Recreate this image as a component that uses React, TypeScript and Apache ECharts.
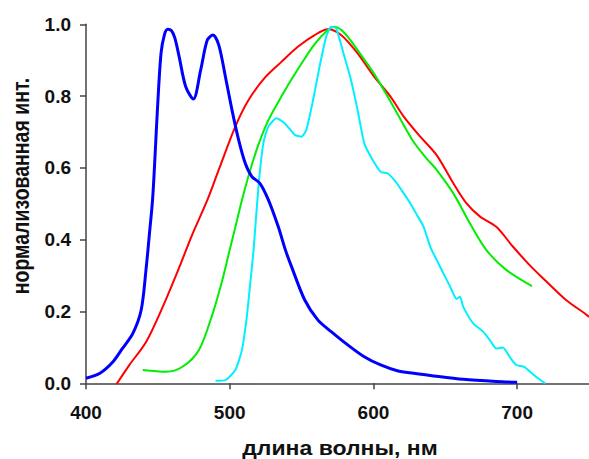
import React, { useEffect, useRef } from "react";
import * as echarts from "echarts";

const xTicks = [400, 500, 600, 700];
const yTicks = [0, 0.2, 0.4, 0.6, 0.8, 1.0];

const blueX = [400, 409.7, 418.8, 425, 432.6, 438.4, 441.8, 444.1, 446.3, 448, 449.8, 452.2, 454.5, 456.8, 459.5, 461.8, 464.8, 469.4, 474.7, 479.8, 484.4, 488.3, 492.4, 497, 501.6, 506.2, 510.8, 515.4, 521, 526.9, 533.8, 538.8, 543, 552.2, 561.4, 570.6, 582.1, 593.6, 605, 616.6, 628, 639.5, 662.5, 685.5, 700];
const blueY = [0.014, 0.028, 0.06, 0.095, 0.139, 0.204, 0.318, 0.415, 0.51, 0.63, 0.77, 0.919, 0.97, 0.986, 0.982, 0.962, 0.91, 0.826, 0.792, 0.873, 0.956, 0.97, 0.942, 0.854, 0.761, 0.678, 0.613, 0.576, 0.557, 0.511, 0.436, 0.371, 0.325, 0.232, 0.176, 0.144, 0.107, 0.074, 0.051, 0.035, 0.028, 0.022, 0.011, 0.005, 0.003];

const redX = [420, 430, 441.8, 453.3, 464.8, 474, 484.4, 492.4, 503.9, 513.1, 524.6, 536.1, 547.6, 559.1, 568.3, 577.5, 589, 600.5, 612, 621.1, 632.6, 644.1, 655.6, 664.8, 674, 685.5, 697, 708.5, 720, 734, 746.9, 750];
const redY = [-0.01, 0.05, 0.115, 0.212, 0.322, 0.415, 0.51, 0.595, 0.715, 0.789, 0.852, 0.896, 0.938, 0.97, 0.986, 0.97, 0.919, 0.854, 0.798, 0.743, 0.687, 0.635, 0.557, 0.501, 0.465, 0.436, 0.381, 0.33, 0.285, 0.232, 0.195, 0.185];

const greenX = [439.5, 455.6, 467.1, 478.6, 487.8, 494.7, 499.3, 503.9, 508.5, 514.3, 520, 526.9, 536.1, 547.6, 559.1, 568.3, 573, 580, 591.3, 600.5, 609.7, 618.9, 628, 637.2, 644.1, 655.6, 667.1, 678.6, 692.4, 710.3];
const greenY = [0.037, 0.032, 0.046, 0.093, 0.19, 0.285, 0.36, 0.435, 0.51, 0.594, 0.665, 0.733, 0.8, 0.876, 0.945, 0.984, 0.993, 0.975, 0.915, 0.862, 0.8, 0.735, 0.672, 0.625, 0.594, 0.529, 0.446, 0.371, 0.316, 0.271];

const cyanX = [490.1, 497, 503.9, 508.5, 511.9, 514.3, 516.6, 520, 523.4, 526.9, 532.6, 538.4, 545.3, 549.9, 553.3, 558, 562.5, 567.1, 570.6, 574, 579.8, 584.4, 589, 593.6, 598.2, 605, 609.7, 615.4, 621.1, 625.7, 630.3, 634.9, 639.5, 644.1, 648.7, 653.3, 657.9, 660.2, 662.5, 669.4, 676.3, 680.9, 685.5, 690.1, 694.7, 699.3, 705, 713.1, 719.5];
const cyanY = [0.007, 0.009, 0.037, 0.093, 0.186, 0.279, 0.371, 0.548, 0.669, 0.715, 0.738, 0.724, 0.692, 0.687, 0.706, 0.789, 0.882, 0.965, 0.993, 0.989, 0.91, 0.845, 0.761, 0.669, 0.631, 0.589, 0.585, 0.562, 0.529, 0.501, 0.469, 0.436, 0.381, 0.343, 0.306, 0.27, 0.235, 0.241, 0.213, 0.167, 0.144, 0.121, 0.097, 0.1, 0.074, 0.051, 0.046, 0.018, 0.0];

const xName = "длина волны, нм";
const yName = "нормализованная инт.";

const zip = (xs: number[], ys: number[]) => xs.map((x, i) => [x, ys[i]]);

const FONT = '"Liberation Sans", Arial, sans-serif';

export default function App() {
  const ref = useRef<HTMLDivElement>(null);
  useEffect(() => {
    if (!ref.current) return;
    const chart = echarts.init(ref.current, undefined, { renderer: "svg" });
    const axisCommon = {
      axisLine: { show: true, lineStyle: { color: "#444", width: 1.5 } },
      axisTick: { show: true, length: 6, lineStyle: { color: "#444", width: 1.5 } },
      splitLine: { show: false },
    };
    chart.setOption({
      animation: false,
      backgroundColor: "#fff",
      grid: { left: 86, right: -4.5, top: 24.3, bottom: 75.7 },
      xAxis: {
        type: "value",
        min: 400,
        max: 750,
        interval: 100,
        ...axisCommon,
        axisLabel: {
          margin: 20,
          showMaxLabel: false,
          color: "#111",
          fontWeight: "bold",
          fontSize: 19,
          fontFamily: FONT,
          formatter: (v: number) => (xTicks.includes(v) ? String(v) : ""),
        },
      },
      yAxis: {
        type: "value",
        min: 0,
        max: 1,
        interval: 0.2,
        ...axisCommon,
        axisLabel: {
          margin: 15,
          color: "#111",
          fontWeight: "bold",
          fontSize: 19,
          fontFamily: FONT,
          formatter: (v: number) => (yTicks.some((t) => Math.abs(t - v) < 1e-6) ? v.toFixed(1) : ""),
        },
      },
      graphic: [
        {
          type: "text",
          x: 340,
          y: 449,
          scaleX: 1.18,
          style: {
            text: xName,
            fill: "#111",
            fontWeight: "bold",
            fontSize: 19.5,
            fontFamily: FONT,
            align: "center",
            verticalAlign: "middle",
            textAlign: "center",
            textVerticalAlign: "middle",
          },
        },
        {
          type: "text",
          x: 21,
          y: 186,
          rotation: Math.PI / 2,
          scaleY: 1.2,
          style: {
            text: yName,
            fill: "#111",
            fontWeight: "bold",
            fontSize: 19.5,
            fontFamily: FONT,
            align: "center",
            verticalAlign: "middle",
            textAlign: "center",
            textVerticalAlign: "middle",
          },
        },
      ],
      series: [
        {
          type: "line",
          data: zip(redX, redY),
          showSymbol: false,
          smooth: 0.3,
          lineStyle: { color: "#ff0000", width: 2 },
          z: 2,
        },
        {
          type: "line",
          data: zip(greenX, greenY),
          showSymbol: false,
          smooth: 0.3,
          lineStyle: { color: "#00ee00", width: 2 },
          z: 3,
        },
        {
          type: "line",
          data: zip(cyanX, cyanY),
          showSymbol: false,
          smooth: 0.2,
          lineStyle: { color: "#00f0ff", width: 2 },
          z: 4,
        },
        {
          type: "line",
          data: zip(blueX, blueY),
          showSymbol: false,
          smooth: 0.3,
          lineStyle: { color: "#0000ff", width: 3 },
          z: 5,
        },
      ],
    });
    return () => chart.dispose();
  }, []);
  return (
    <div
      ref={ref}
      style={{ position: "fixed", left: 0, top: 0, width: 589, height: 459 }}
    />
  );
}
